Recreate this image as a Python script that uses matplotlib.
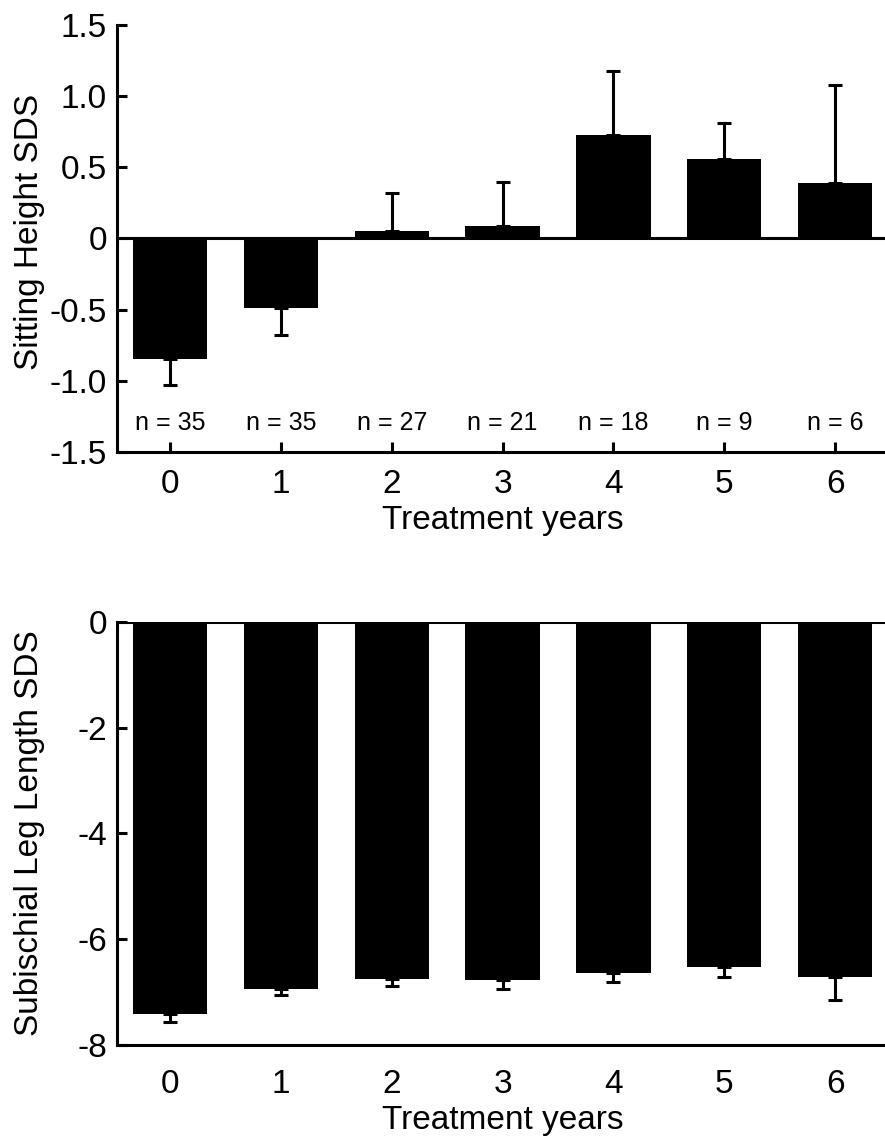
import matplotlib
matplotlib.use('Agg')
import matplotlib.pyplot as plt
import numpy as np

plt.rcParams['font.family'] = ['Liberation Sans', 'DejaVu Sans']
plt.rcParams['axes.unicode_minus'] = False

# treatment years and group sizes
years = [0, 1, 2, 3, 4, 5, 6]
nCounts = [35, 35, 27, 21, 18, 9, 6]

# sitting height SDS (mean and one-sided error)
sitMean = [-0.85, -0.49, 0.05, 0.09, 0.73, 0.56, 0.39]
sitErr = [0.18, 0.19, 0.27, 0.31, 0.45, 0.25, 0.69]

# subischial leg length SDS
legMean = [-7.41, -6.94, -6.75, -6.77, -6.64, -6.52, -6.71]
legErr = [0.15, 0.11, 0.13, 0.17, 0.17, 0.19, 0.44]

lw = 2.2
fs = 24
fig = plt.figure(figsize=(8.85, 11.37), dpi=100)

# one-sided error bars: away from zero
def oneSided(means, errs):
    lower = [e if m < 0 else 0 for m, e in zip(means, errs)]
    upper = [e if m >= 0 else 0 for m, e in zip(means, errs)]
    return [lower, upper]

# ---- top panel ----
ax1 = fig.add_axes([0.132, 0.6025, 0.868, 0.3755])
ax1.bar(years, sitMean, width=0.67, color='black', zorder=2)
ax1.errorbar(years, sitMean, yerr=oneSided(sitMean, sitErr), fmt='none',
             ecolor='black', elinewidth=lw, capsize=5, capthick=lw, zorder=3)
ax1.axhline(0, color='black', linewidth=lw, zorder=4)
for x, n in zip(years, nCounts):
    ax1.text(x, -1.30, 'n = %d' % n, ha='center', va='center', fontsize=18)
ax1.set_xlim(-0.48, 6.45)
ax1.set_ylim(-1.5, 1.5)
ax1.set_yticks([-1.5, -1.0, -0.5, 0, 0.5, 1.0, 1.5])
ax1.set_yticklabels(['-1.5', '-1.0', '-0.5', '0', '0.5', '1.0', '1.5'])
ax1.set_xticks(years)
ax1.tick_params(axis='both', direction='in', length=7, width=lw, labelsize=fs, pad=7)
ax1.tick_params(axis='x', pad=12)
for s in ['top', 'right']:
    ax1.spines[s].set_visible(False)
for s in ['left', 'bottom']:
    ax1.spines[s].set_linewidth(lw)
ax1.set_xlabel('Treatment years', fontsize=fs)
ax1.set_ylabel('Sitting Height SDS', fontsize=fs)
ax1.xaxis.set_label_coords(0.502, -0.124)
ax1.yaxis.set_label_coords(-0.094, 0.515)

# ---- bottom panel ----
ax2 = fig.add_axes([0.132, 0.081, 0.868, 0.372])
ax2.bar(years, legMean, width=0.67, color='black', zorder=2)
ax2.errorbar(years, legMean, yerr=oneSided(legMean, legErr), fmt='none',
             ecolor='black', elinewidth=lw, capsize=5, capthick=lw, zorder=3)
ax2.axhline(0, color='black', linewidth=lw, zorder=4)
ax2.set_xlim(-0.48, 6.45)
ax2.set_ylim(-8, 0)
ax2.set_yticks([-8, -6, -4, -2, 0])
ax2.set_xticks(years)
ax2.tick_params(axis='y', direction='in', length=7, width=lw, labelsize=fs, pad=7)
ax2.tick_params(axis='x', length=0, labelsize=fs, pad=17)
for s in ['top', 'right']:
    ax2.spines[s].set_visible(False)
for s in ['left', 'bottom']:
    ax2.spines[s].set_linewidth(lw)
ax2.set_xlabel('Treatment years', fontsize=fs)
ax2.set_ylabel('Subischial Leg Length SDS', fontsize=fs)
ax2.xaxis.set_label_coords(0.502, -0.142)
ax2.yaxis.set_label_coords(-0.094, 0.5)

fig.savefig('out.png', dpi=100)
